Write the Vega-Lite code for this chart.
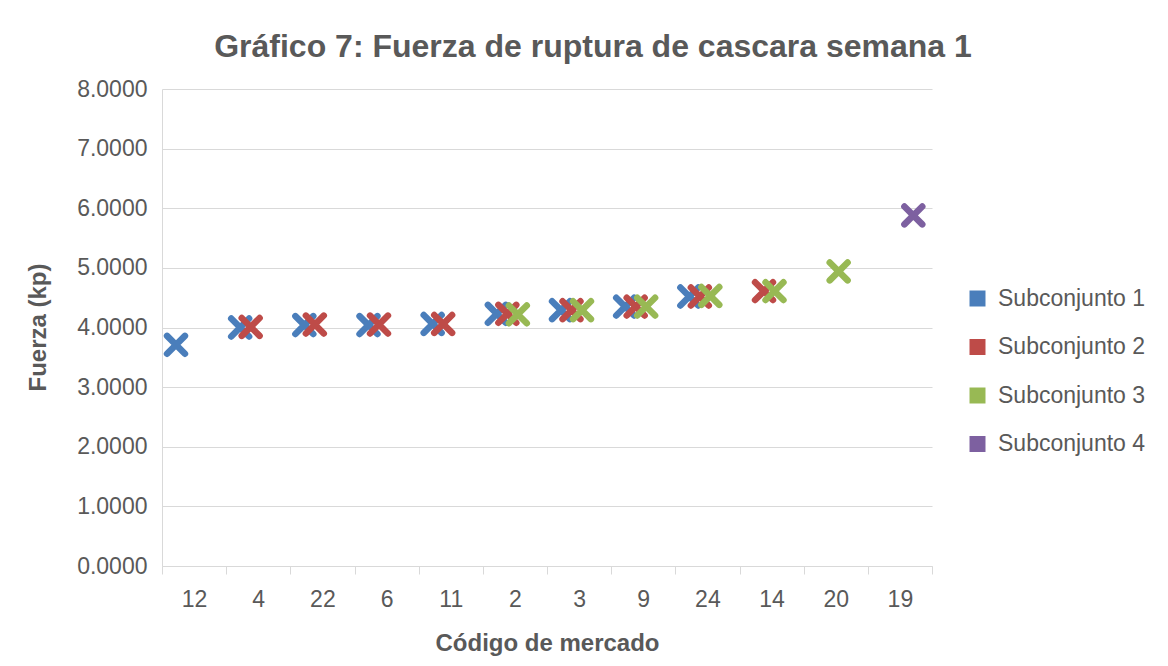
{
  "$schema": "https://vega.github.io/schema/vega-lite/v6.json",
  "autosize": {"type": "none"},
  "width": 770,
  "height": 477,
  "padding": {"left": 162, "top": 89, "right": 236, "bottom": 100},
  "background": "white",
  "title": {
    "text": "Gráfico 7: Fuerza de ruptura de cascara semana 1",
    "fontSize": 32,
    "font": "Liberation Sans",
    "fontWeight": "bold",
    "color": "#595959",
    "offset": 14,
    "dx": 46
  },
  "data": {
    "values": [
      {"codigo": "12", "subconjunto": "Subconjunto 1", "fuerza": 3.71},
      {"codigo": "4", "subconjunto": "Subconjunto 1", "fuerza": 4.00},
      {"codigo": "4", "subconjunto": "Subconjunto 2", "fuerza": 4.01},
      {"codigo": "22", "subconjunto": "Subconjunto 1", "fuerza": 4.04},
      {"codigo": "22", "subconjunto": "Subconjunto 2", "fuerza": 4.05},
      {"codigo": "6", "subconjunto": "Subconjunto 1", "fuerza": 4.04},
      {"codigo": "6", "subconjunto": "Subconjunto 2", "fuerza": 4.05},
      {"codigo": "11", "subconjunto": "Subconjunto 1", "fuerza": 4.06},
      {"codigo": "11", "subconjunto": "Subconjunto 2", "fuerza": 4.06},
      {"codigo": "2", "subconjunto": "Subconjunto 1", "fuerza": 4.23},
      {"codigo": "2", "subconjunto": "Subconjunto 2", "fuerza": 4.23},
      {"codigo": "2", "subconjunto": "Subconjunto 3", "fuerza": 4.22},
      {"codigo": "3", "subconjunto": "Subconjunto 1", "fuerza": 4.29},
      {"codigo": "3", "subconjunto": "Subconjunto 2", "fuerza": 4.29},
      {"codigo": "3", "subconjunto": "Subconjunto 3", "fuerza": 4.29},
      {"codigo": "9", "subconjunto": "Subconjunto 1", "fuerza": 4.35},
      {"codigo": "9", "subconjunto": "Subconjunto 2", "fuerza": 4.35},
      {"codigo": "9", "subconjunto": "Subconjunto 3", "fuerza": 4.35},
      {"codigo": "24", "subconjunto": "Subconjunto 1", "fuerza": 4.52},
      {"codigo": "24", "subconjunto": "Subconjunto 2", "fuerza": 4.52},
      {"codigo": "24", "subconjunto": "Subconjunto 3", "fuerza": 4.53},
      {"codigo": "14", "subconjunto": "Subconjunto 2", "fuerza": 4.61},
      {"codigo": "14", "subconjunto": "Subconjunto 3", "fuerza": 4.61},
      {"codigo": "20", "subconjunto": "Subconjunto 3", "fuerza": 4.94},
      {"codigo": "19", "subconjunto": "Subconjunto 4", "fuerza": 5.88}
    ]
  },
  "mark": {
    "type": "point",
    "shape": "M-1,-1L1,1M1,-1L-1,1",
    "filled": false,
    "size": 320,
    "strokeWidth": 6.5,
    "strokeCap": "round",
    "opacity": 1
  },
  "encoding": {
    "x": {
      "field": "codigo",
      "type": "nominal",
      "sort": ["12", "4", "22", "6", "11", "2", "3", "9", "24", "14", "20", "19"],
      "scale": {"paddingInner": 0, "paddingOuter": 0},
      "axis": {
        "title": "Código de mercado",
        "labelAngle": 0,
        "tickBand": "extent",
        "tickSize": 8,
        "tickColor": "#D9D9D9",
        "domainColor": "#D9D9D9",
        "labelPadding": 14,
        "titlePadding": 20
      }
    },
    "xOffset": {
      "field": "subconjunto",
      "type": "nominal",
      "scale": {
        "domain": ["Subconjunto 1", "Subconjunto 2", "Subconjunto 3", "Subconjunto 4"],
        "range": [14, 45.5],
        "padding": 0
      }
    },
    "y": {
      "field": "fuerza",
      "type": "quantitative",
      "scale": {"domain": [0, 8], "nice": false, "zero": true},
      "axis": {
        "title": "Fuerza (kp)",
        "values": [0, 1, 2, 3, 4, 5, 6, 7, 8],
        "format": ".4f",
        "ticks": false,
        "labelPadding": 15,
        "grid": true,
        "gridColor": "#D9D9D9",
        "domainColor": "#D9D9D9",
        "titleX": -124,
        "titleY": 238,
        "titleAlign": "center",
        "titleBaseline": "middle",
        "titleAngle": 270
      }
    },
    "stroke": {
      "field": "subconjunto",
      "type": "nominal",
      "scale": {
        "domain": ["Subconjunto 1", "Subconjunto 2", "Subconjunto 3", "Subconjunto 4"],
        "range": ["#4A7EBB", "#BE4B48", "#98B954", "#7D60A0"]
      },
      "legend": null
    },
    "fill": {
      "field": "subconjunto",
      "type": "nominal",
      "scale": {
        "domain": ["Subconjunto 1", "Subconjunto 2", "Subconjunto 3", "Subconjunto 4"],
        "range": ["#4A7EBB", "#BE4B48", "#98B954", "#7D60A0"]
      },
      "legend": {
        "title": null,
        "orient": "none",
        "legendX": 804,
        "legendY": 198,
        "symbolType": "square",
        "symbolSize": 256,
        "symbolStrokeWidth": 0,
        "symbolOpacity": 1,
        "labelFontSize": 23,
        "labelFont": "Liberation Sans",
        "labelColor": "#595959",
        "labelOffset": 9,
        "rowPadding": 24.5
      }
    }
  },
  "config": {
    "view": {"stroke": null},
    "font": "Liberation Sans",
    "axis": {
      "labelFont": "Liberation Sans",
      "labelFontSize": 23,
      "labelColor": "#595959",
      "titleFont": "Liberation Sans",
      "titleFontSize": 24,
      "titleFontWeight": "bold",
      "titleColor": "#595959",
      "gridColor": "#D9D9D9"
    },
    "axisX": {"grid": false}
  }
}
